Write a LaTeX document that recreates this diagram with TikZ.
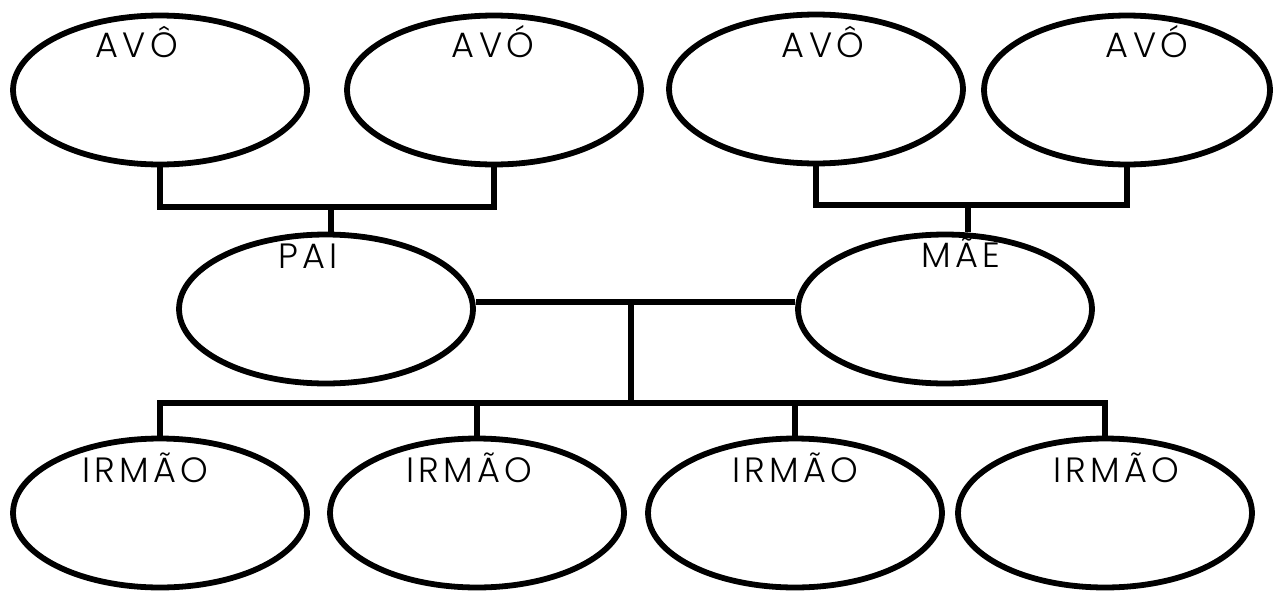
\documentclass[tikz,border=0pt]{standalone}
\usepackage{fontspec}
\setmainfont{Poppins Light}[LetterSpace=12]
\usetikzlibrary{shapes.geometric}

\tikzset{
  person/.style={draw,ellipse,line width=3.3pt,inner sep=0pt,
    minimum width=5.88cm,minimum height=2.98cm},
  tag/.style={anchor=base,inner sep=0pt,font=\fontsize{20}{22}\selectfont},
  link/.style={line width=3.6pt},
}

\begin{document}
\begin{tikzpicture}[x=0.02cm,y=-0.02cm]
  \useasboundingbox (0,0) rectangle (1275,592);

  % avós
  \node[person] (g1) at (160,90) {};
  \node[person] (g2) at (494,90) {};
  \node[person] (g3) at (816,89) {};
  \node[person,minimum width=5.72cm] (g4) at (1127,90) {};
  \node[tag] (tg1) at (137,57) {AVÔ};
  \node[tag] (tg2) at (493,57) {AVÓ};
  \node[tag] (tg3) at (823,57) {AVÔ};
  \node[tag] (tg4) at (1147,57) {AVÓ};

  % pais
  \node[person] (pai) at (326,309) {};
  \node[person] (mae) at (945,309) {};
  \node[tag] (tpai) at (308,268) {PAI};
  \node[tag] (tmae) at (961,267) {MÃE};

  % irmãos
  \node[person] (s1) at (160,513) {};
  \node[person] (s2) at (477,513) {};
  \node[person] (s3) at (795,513) {};
  \node[person] (s4) at (1105,513) {};
  \foreach \i/\x in {1/145,2/469,3/795,4/1116}
    \node[tag] (ts\i) at (\x,482) {IRMÃO};

  % ligações
  \coordinate (jp) at (331,207);
  \coordinate (jm) at (968,205);
  \coordinate (jc) at (631,302);
  \coordinate (js) at (631,403);

  \draw[link] (g1.south) |- (jp) -| (g2.south);
  \draw[link] (jp) -- (jp |- pai.north);
  \draw[link] (g3.south) |- (jm) -| (g4.south);
  \draw[link] (jm) -- (jm |- mae.north);
  \draw[link] (jc -| pai.east) -- (jc -| mae.west);
  \draw[link] (jc) -- (js);
  \draw[link] (s1.north) |- (js) -| (s4.north);
  \draw[link] (s2.north) -- (s2.north |- js);
  \draw[link] (s3.north) -- (s3.north |- js);
\end{tikzpicture}
\end{document}
